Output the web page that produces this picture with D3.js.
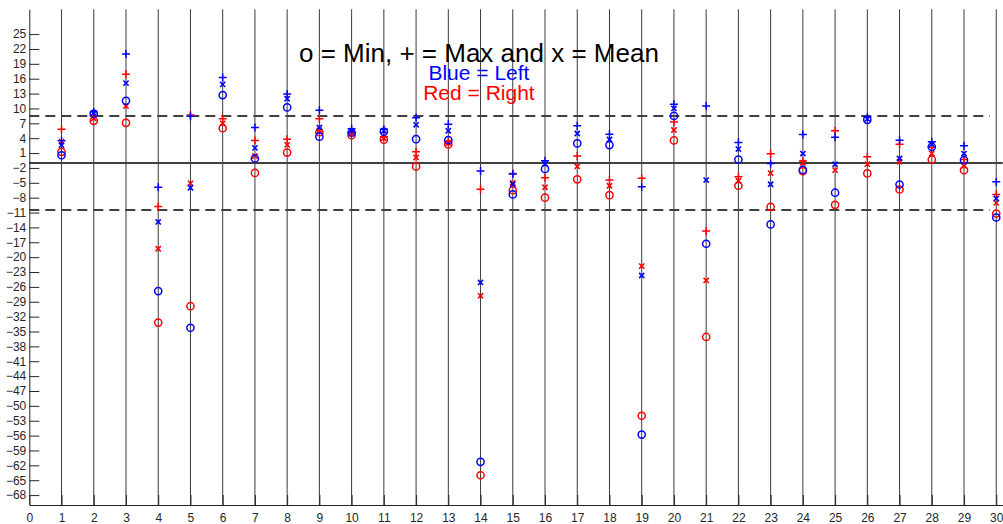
<!DOCTYPE html>
<html>
<head>
<meta charset="utf-8">
<script src="https://cdn.jsdelivr.net/npm/d3@7"></script>
<style>
  body { margin: 0; background: #fff; }
  svg { display: block; font-family: "Liberation Sans", Arial, sans-serif; }
</style>
</head>
<body>
<div class="container"></div>
<script>
var width = 1003;
var height = 524;

// Trial numbers on the x axis
var trials = d3.range(1, 31);

// Left side (blue)
var blueMin  = [0.55, 8.9, 11.55, -26.85, -34.25, 12.7, -0.1, 10.2, 4.3, 5.1, 5.3, 3.8, 3.6, -61.3, -7.35, -2.2, 2.95, 2.6, -55.8, 8.5, -17.3, -0.3, -13.4, -2.4, -7.0, 7.7, -5.35, 2.25, -0.4, -12.0];
var blueMean = [2.6, 9.1, 15.1, -12.9, -6.0, 14.85, 2.05, 11.95, 6.15, 5.5, 5.5, 6.7, 5.5, -25.1, -5.3, -1.2, 4.95, 3.75, -23.7, 10.0, -4.45, 1.8, -5.3, 0.9, -1.25, 7.9, -0.1, 2.8, 0.9, -8.15];
var blueMax  = [3.5, 9.3, 21.0, -5.9, 8.4, 16.25, 6.15, 12.9, 9.65, 5.9, 5.8, 8.1, 6.8, -2.6, -3.25, -0.55, 6.5, 4.8, -5.8, 10.85, 10.5, 3.15, -1.1, 4.75, 4.2, 8.2, 3.6, 3.3, 2.45, -4.8];

// Right side (red)
var redMin  = [1.25, 7.5, 7.1, -33.2, -29.9, 6.0, -3.0, 1.1, 5.2, 4.6, 3.7, -1.7, 2.75, -64.0, -6.5, -8.0, -4.3, -7.5, -52.0, 3.55, -36.1, -5.6, -9.85, -2.65, -9.45, -3.1, -6.35, -0.3, -2.45, -11.2];
var redMean = [3.3, 8.0, 10.5, -18.3, -5.1, 7.0, 0.4, 2.65, 5.6, 5.0, 4.0, 0.1, 3.0, -27.8, -5.0, -5.9, -1.7, -5.6, -21.8, 5.65, -24.7, -4.6, -3.05, -0.95, -2.45, -1.25, -0.75, 0.9, -1.6, -9.05];
var redMax  = [5.8, 8.4, 16.9, -9.8, 8.7, 7.9, 3.55, 3.8, 7.9, 5.3, 4.3, 1.25, 3.3, -6.3, -3.1, -4.0, 0.4, -4.45, -4.1, 7.25, -14.7, -3.8, 0.85, -0.6, 5.5, 0.25, 2.8, 2.1, -0.3, -7.35];

// Reference lines: overall mean and +/- band
var meanLine = -1;
var bandLines = [8.5, -10.5];

// Axis tick values
var xTicks = d3.range(0, 31);
var yTicks = d3.range(25, -69, -3);

var colors = { left: "#0000ff", right: "#ff0000" };

var svg = d3.select(".container").append("svg")
  .attr("width", width)
  .attr("height", height);

// the plot runs a little past 30 and is cut off by the window edge
var xScale = d3.scaleLinear().domain([0, 30.2]).range([29.3, 1002.7]);
var yScale = d3.scaleLinear().domain([-70, 30]).range([505, 9.3]);

renderGrid();
renderRefLines();
renderAxes();
renderSeries(redMin, redMean, redMax, colors.right);
renderSeries(blueMin, blueMean, blueMax, colors.left);
renderLabels();

function renderGrid() {
  svg.append("g")
    .attr("class", "grid")
    .selectAll("line")
    .data(trials)
    .enter().append("line")
    .attr("x1", d => xScale(d))
    .attr("x2", d => xScale(d))
    .attr("y1", yScale(30))
    .attr("y2", yScale(-70))
    .style("stroke", "#3a3a3a")
    .style("stroke-width", 1);
}

function renderRefLines() {
  svg.append("line")
    .attr("x1", xScale(0))
    .attr("x2", xScale(30.2))
    .attr("y1", yScale(meanLine))
    .attr("y2", yScale(meanLine))
    .style("stroke", "#404040")
    .style("stroke-width", 2);

  svg.selectAll("line.band")
    .data(bandLines)
    .enter().append("line")
    .attr("class", "band")
    .attr("x1", xScale(0))
    .attr("x2", xScale(29.8))
    .attr("y1", d => yScale(d))
    .attr("y2", d => yScale(d))
    .style("stroke", "#404040")
    .style("stroke-width", 2)
    .style("stroke-dasharray", "10,6");
}

function renderAxes() {
  var axisY = d3.axisLeft(yScale)
    .tickValues(yTicks)
    .tickSizeInner(-10)
    .tickSizeOuter(0)
    .tickPadding(3)
    .tickFormat(d3.format("d"));

  var gy = svg.append("g")
    .attr("transform", "translate(" + xScale(0) + ",0)")
    .call(axisY);

  var axisX = d3.axisBottom(xScale)
    .tickValues(xTicks)
    .tickSizeInner(-10)
    .tickSizeOuter(0)
    .tickPadding(8)
    .tickFormat(d3.format("d"));

  var gx = svg.append("g")
    .attr("transform", "translate(0," + yScale(-70) + ")")
    .call(axisX);

  [gx, gy].forEach(function (g) {
    g.select(".domain").style("stroke", "#262626");
    g.selectAll(".tick line").style("stroke", "#262626");
    g.selectAll(".tick text")
      .style("fill", "#262626")
      .style("font-size", "12px")
      .style("font-family", "\"Liberation Sans\", Arial, sans-serif");
  });
}

// o = min, + = max, x = mean
function renderSeries(mins, means, maxs, color) {
  var g = svg.append("g");

  g.selectAll("circle")
    .data(trials)
    .enter().append("circle")
    .attr("cx", d => xScale(d))
    .attr("cy", (d, i) => yScale(mins[i]))
    .attr("r", 3.6)
    .style("fill", "none")
    .style("stroke", color)
    .style("stroke-width", 1.5);

  var plusSize = 4;
  g.selectAll("path.max")
    .data(trials)
    .enter().append("path")
    .attr("class", "max")
    .attr("d", function (d, i) {
      var cx = xScale(d), cy = yScale(maxs[i]);
      return "M" + (cx - plusSize) + "," + cy + "H" + (cx + plusSize) +
        "M" + cx + "," + (cy - plusSize) + "V" + (cy + plusSize);
    })
    .style("stroke", color)
    .style("stroke-width", 1.5);

  var crossSize = 2.6;
  g.selectAll("path.mean")
    .data(trials)
    .enter().append("path")
    .attr("class", "mean")
    .attr("d", function (d, i) {
      var cx = xScale(d), cy = yScale(means[i]);
      return "M" + (cx - crossSize) + "," + (cy - crossSize) + "L" + (cx + crossSize) + "," + (cy + crossSize) +
        "M" + (cx - crossSize) + "," + (cy + crossSize) + "L" + (cx + crossSize) + "," + (cy - crossSize);
    })
    .style("stroke", color)
    .style("stroke-width", 1.6);
}

function renderLabels() {
  var labels = [
    { text: "o = Min, + = Max and x = Mean", y: 19.3, size: 26, color: "#000" },
    { text: "Blue = Left", y: 15.8, size: 21, color: colors.left },
    { text: "Red = Right", y: 11.8, size: 21, color: colors.right }
  ];
  svg.selectAll("text.label")
    .data(labels)
    .enter().append("text")
    .attr("class", "label")
    .attr("x", xScale(13.95))
    .attr("y", d => yScale(d.y))
    .style("text-anchor", "middle")
    .style("font-size", d => d.size + "px")
    .style("fill", d => d.color)
    .text(d => d.text);
}
</script>
</body>
</html>
